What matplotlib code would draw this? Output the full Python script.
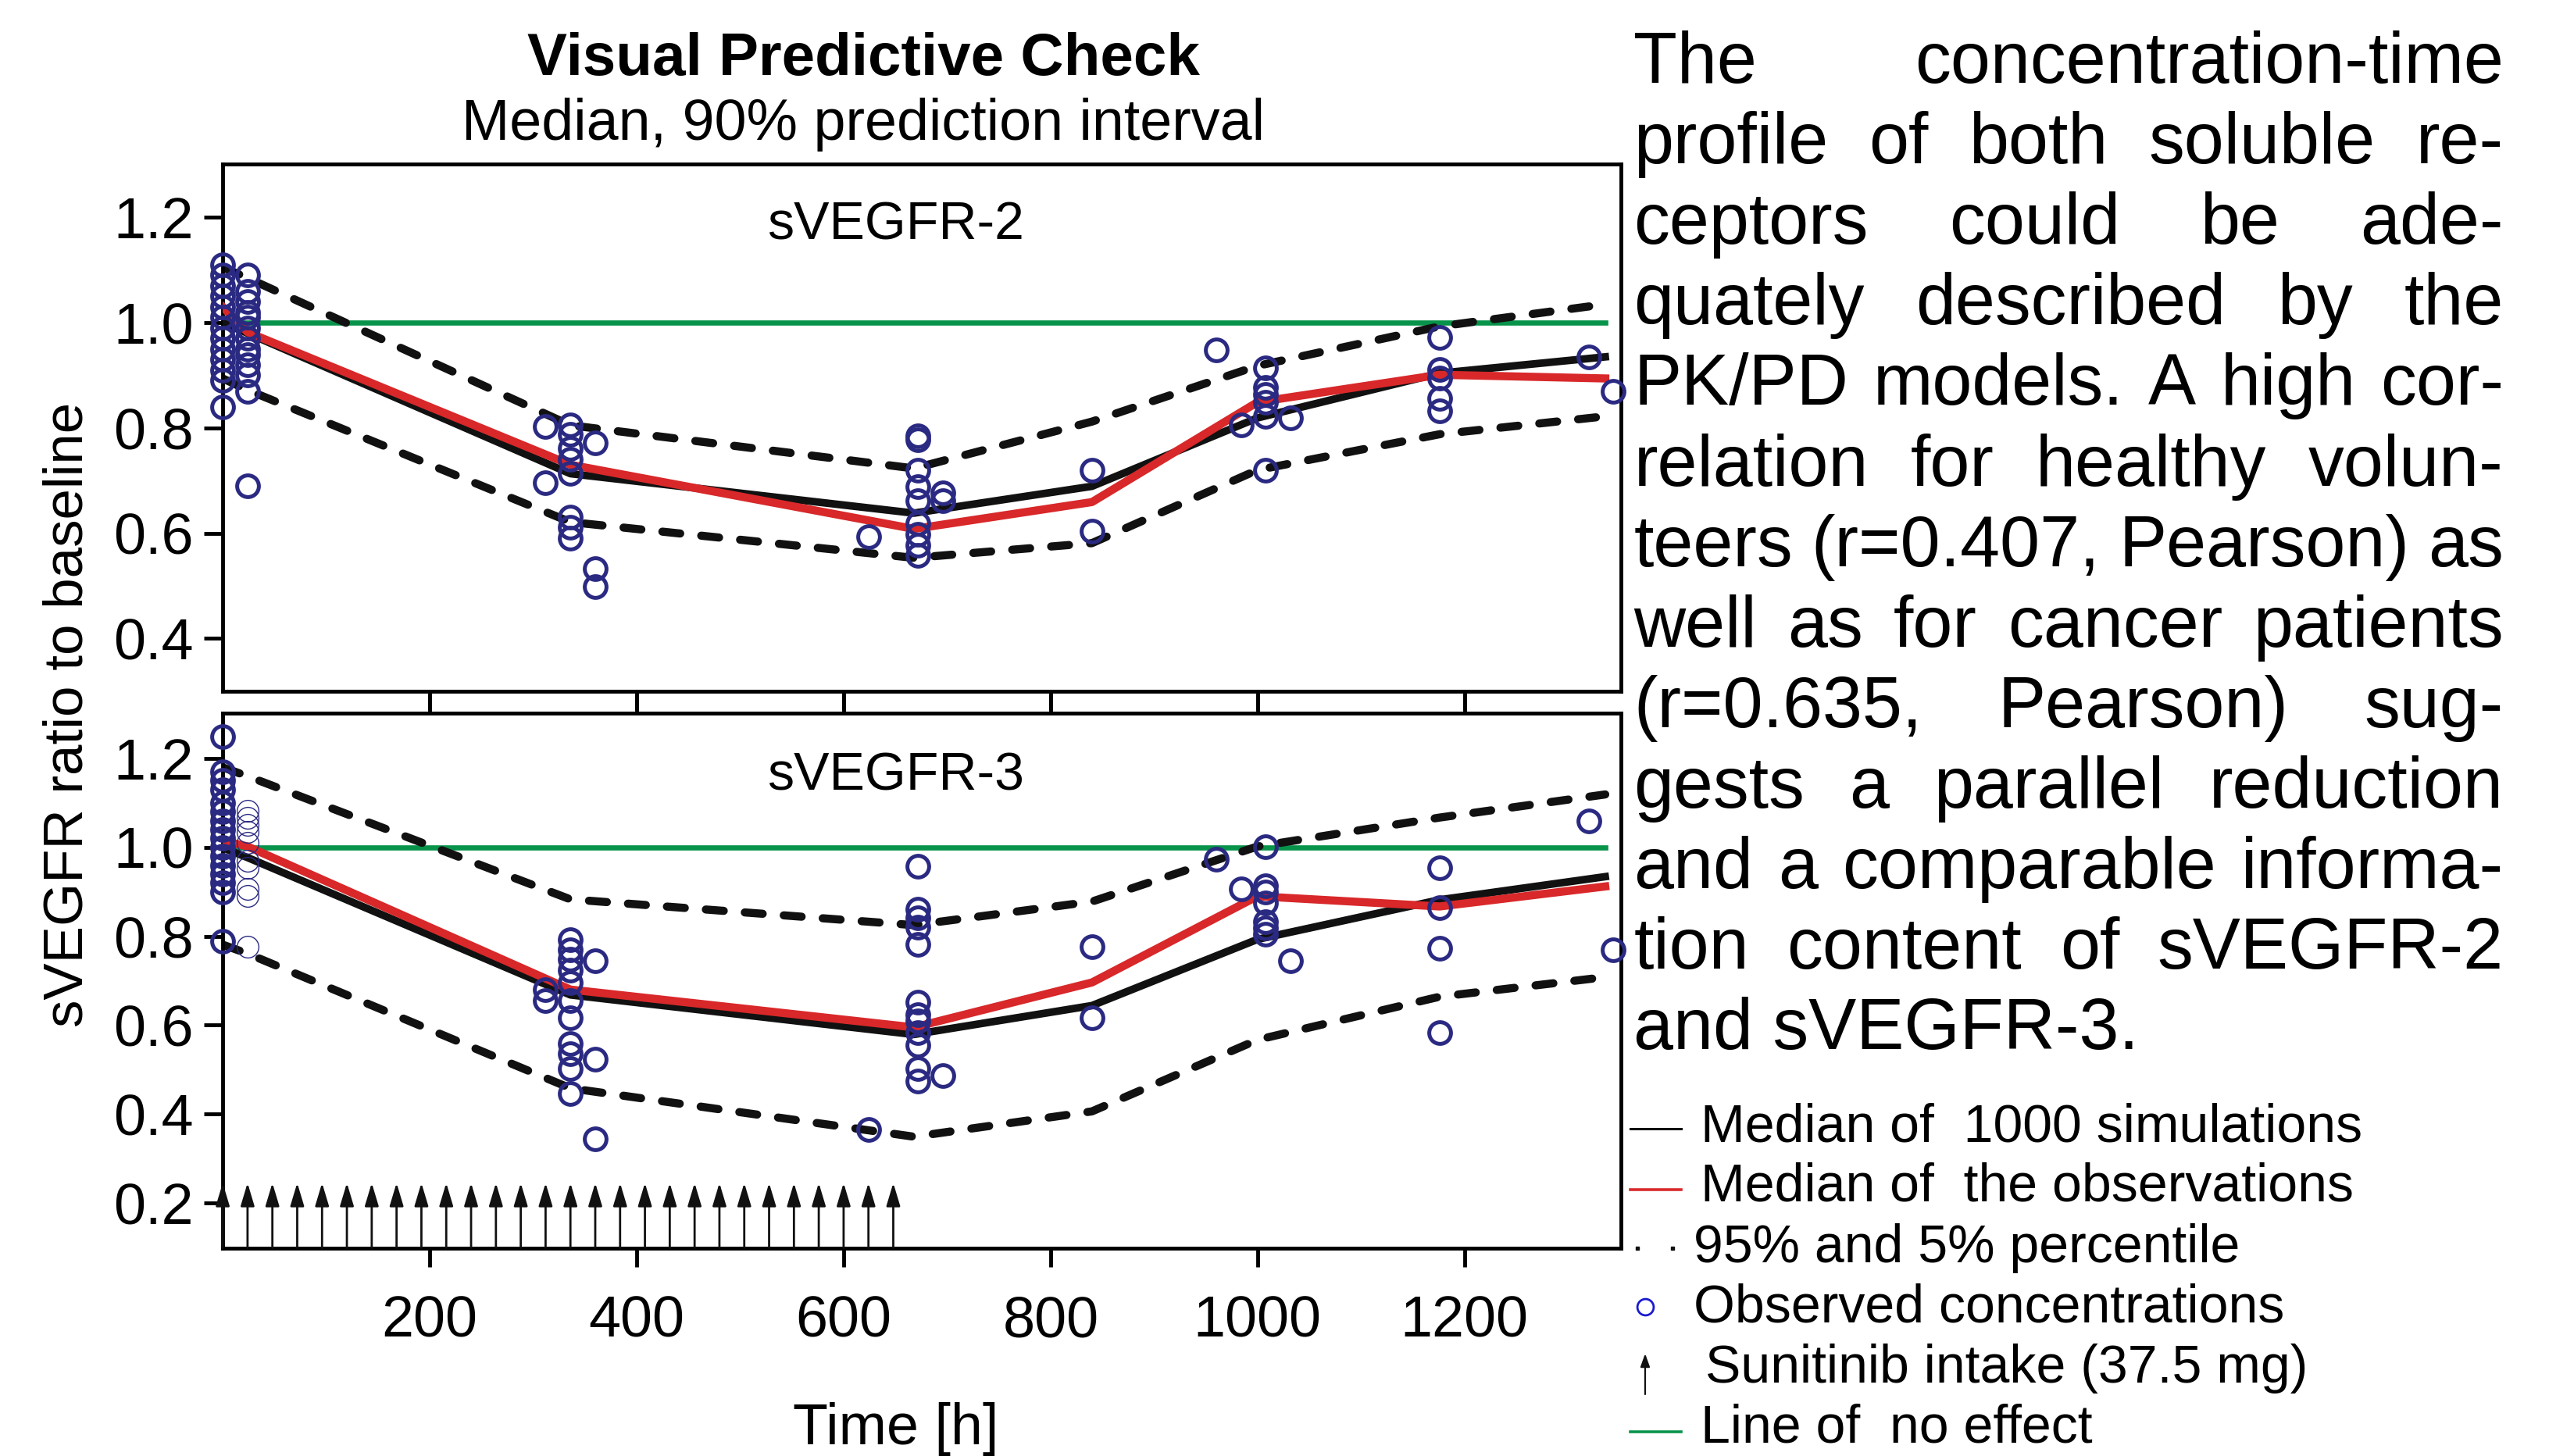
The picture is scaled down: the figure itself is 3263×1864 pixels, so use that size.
import matplotlib
matplotlib.use('Agg')
import matplotlib.pyplot as plt
from matplotlib import font_manager as fm

names = {f.name for f in fm.fontManager.ttflist}
FONT = 'Liberation Sans' if 'Liberation Sans' in names else 'DejaVu Sans'
plt.rcParams['font.family'] = [FONT, 'DejaVu Sans']

# ---- data -----------------------------------------------------------
med_time = [0, 24, 336, 668, 840, 1000, 1176, 1336]

# sVEGFR-2
sim_med_2 = [1.000, 0.980, 0.713, 0.638, 0.689, 0.819, 0.904, 0.935]
obs_med_2 = [1.030, 0.982, 0.730, 0.608, 0.659, 0.849, 0.901, 0.894]
p95_2 = [1.105, 1.085, 0.805, 0.723, 0.812, 0.918, 0.993, 1.035]
p5_2 = [0.894, 0.872, 0.621, 0.553, 0.581, 0.720, 0.788, 0.822]

obs_time_2 = [0, 24, 312, 336, 360, 624, 672, 696, 840, 960, 984, 1008, 1032, 1176, 1320, 1344]
obs_vals_2 = [
    [1.11, 1.09, 1.07, 1.05, 1.03, 1.01, 0.99, 0.97, 0.95, 0.93, 0.91, 0.89, 0.84],
    [1.09, 1.06, 1.04, 1.02, 1.01, 0.99, 0.97, 0.95, 0.94, 0.92, 0.90, 0.87, 0.69],
    [0.802, 0.696],
    [0.805, 0.788, 0.761, 0.740, 0.713, 0.631, 0.611, 0.591],
    [0.771, 0.533, 0.499],
    [0.594],
    [0.785, 0.778, 0.720, 0.688, 0.662, 0.618, 0.598, 0.577, 0.557],
    [0.677, 0.662],
    [0.720, 0.604],
    [0.948],
    [0.805],
    [0.914, 0.877, 0.863, 0.849, 0.822, 0.720],
    [0.819],
    [0.972, 0.911, 0.894, 0.856, 0.833],
    [0.935],
    [0.870],
]

# sVEGFR-3
sim_med_3 = [0.999, 0.977, 0.668, 0.579, 0.644, 0.793, 0.882, 0.934]
obs_med_3 = [1.015, 1.002, 0.680, 0.595, 0.696, 0.890, 0.867, 0.912]
p95_3 = [1.180, 1.160, 0.883, 0.825, 0.878, 1.002, 1.067, 1.119]
p5_3 = [0.781, 0.761, 0.458, 0.349, 0.406, 0.567, 0.664, 0.708]

obs_time_3 = [0, 312, 336, 360, 624, 672, 696, 840, 960, 984, 1008, 1032, 1176, 1320, 1344]
obs_vals_3 = [
    [1.249, 1.17, 1.15, 1.13, 1.10, 1.08, 1.06, 1.04, 1.02, 1.00, 0.98, 0.96, 0.94, 0.92, 0.90, 0.789],
    [0.680, 0.656],
    [0.793, 0.769, 0.749, 0.724, 0.696, 0.656, 0.616, 0.559, 0.535, 0.503, 0.446],
    [0.744, 0.523, 0.345],
    [0.366],
    [0.958, 0.861, 0.841, 0.821, 0.781, 0.652, 0.624, 0.609, 0.583, 0.555, 0.503, 0.474],
    [0.486],
    [0.777, 0.616],
    [0.974],
    [0.906],
    [1.002, 0.914, 0.899, 0.874, 0.833, 0.818, 0.805],
    [0.744],
    [0.954, 0.865, 0.773, 0.583],
    [1.059],
    [0.769],
]
# day-1 samples drawn with thin circles in the sVEGFR-3 panel
thin_time_3 = 24
thin_vals_3 = [1.083, 1.067, 1.051, 1.035, 1.010, 0.970, 0.954, 0.906, 0.890, 0.777]

dose_time = [0, 24, 48, 72, 96, 120, 144, 168, 192, 216, 240, 264, 288, 312,
             336, 360, 384, 408, 432, 456, 480, 504, 528, 552, 576, 600, 624, 648]

x_ticks = [200, 400, 600, 800, 1000, 1200]
y_ticks_2 = [0.4, 0.6, 0.8, 1.0, 1.2]
y_ticks_3 = [0.2, 0.4, 0.6, 0.8, 1.0, 1.2]

para_lines = [
    "The concentration-time",
    "profile of both soluble re-",
    "ceptors could be ade-",
    "quately described by the",
    "PK/PD models. A high cor-",
    "relation for healthy volun-",
    "teers (r=0.407, Pearson) as",
    "well as for cancer patients",
    "(r=0.635, Pearson) sug-",
    "gests a parallel reduction",
    "and a comparable informa-",
    "tion content of sVEGFR-2",
    "and sVEGFR-3.",
]

# ---- style ----------------------------------------------------------
BLUE = '#2b2a82'
RED = '#d8282a'
GREEN = '#07934a'
BLACK = '#111111'

W, H = 1568, 896  # layout units (reference preview pixels)
fig = plt.figure(figsize=(32.63, 18.64), dpi=100)

ax_top = fig.add_axes([137 / W, 1 - 425.2 / H, 860 / W, 324.4 / H])
ax_bot = fig.add_axes([137 / W, 1 - 767.9 / H, 860 / W, 328.8 / H])


def draw_panel(ax, sim, obs, p95, p5, t_obs, v_obs, label):
    ax.plot([med_time[0], med_time[-1]], [1.0, 1.0], color=GREEN, lw=4.8, zorder=1)
    for q in (p95, p5):
        ax.plot(med_time, q, color=BLACK, lw=7.5, ls=(0, (2.2, 2.6)),
                dash_capstyle='round', zorder=2)
    ax.plot(med_time, sim, color=BLACK, lw=7, zorder=3)
    ax.plot(med_time, obs, color=RED, lw=7.5, zorder=4)
    for t, vals in zip(t_obs, v_obs):
        ax.plot([t] * len(vals), vals, 'o', ms=20, mfc='none', mec=BLUE,
                mew=3.6, clip_on=False, zorder=5)
    ax.text(0.4814, 0.856, label, transform=ax.transAxes, ha='center',
            va='baseline', fontsize=49)
    ax.set_xlim(0, 1351)
    ax.set_xticks(x_ticks)
    for s in ax.spines.values():
        s.set_linewidth(3.5)
    ax.tick_params(direction='out', length=17, width=3.5, labelsize=53)
    ax.tick_params(axis='y', pad=10)
    ax.tick_params(axis='x', pad=26)


draw_panel(ax_top, sim_med_2, obs_med_2, p95_2, p5_2, obs_time_2, obs_vals_2, 'sVEGFR-2')
ax_top.set_ylim(0.30, 1.302)
ax_top.set_yticks(y_ticks_2)
ax_top.tick_params(axis='x', labelbottom=False)

draw_panel(ax_bot, sim_med_3, obs_med_3, p95_3, p5_3, obs_time_3, obs_vals_3, 'sVEGFR-3')
ax_bot.plot([thin_time_3] * len(thin_vals_3), thin_vals_3, 'o', ms=20, mfc='none',
            mec=BLUE, mew=1.0, clip_on=False, zorder=5)
ax_bot.set_ylim(0.099, 1.301)
ax_bot.set_yticks(y_ticks_3)
ax_bot.tick_params(axis='x', top=True, labeltop=False)

for t in dose_time:
    ax_bot.annotate('', xy=(t, 0.245), xytext=(t, 0.099),
                    arrowprops=dict(arrowstyle='-|>,head_length=0.4,head_width=0.12',
                                    color=BLACK, lw=2, shrinkA=0, shrinkB=0,
                                    mutation_scale=45),
                    annotation_clip=False)

# ---- overlay for titles, paragraph and legend -----------------------
ov = fig.add_axes([0, 0, 1, 1], zorder=10)
ov.set_xlim(0, W)
ov.set_ylim(H, 0)
ov.axis('off')
ov.patch.set_visible(False)

ov.text(531, 46, 'Visual Predictive Check', ha='center', va='baseline',
        fontsize=55, fontweight='bold')
ov.text(531, 86, 'Median, 90% prediction interval', ha='center', va='baseline',
        fontsize=53)
ov.text(42, 440, 'sVEGFR ratio to baseline', rotation=90, ha='center',
        va='center', fontsize=51)
ov.text(551, 889, 'Time [h]', ha='center', va='baseline', fontsize=53)

# justified paragraph
renderer = fig.canvas.get_renderer()
scale = W / fig.bbox.width
left, right = 1005, 1540
for i, line in enumerate(para_lines):
    yb = 51 + i * 49.55
    if i == len(para_lines) - 1:
        ov.text(left, yb, line, ha='left', va='baseline', fontsize=66)
        continue
    words = line.split()
    ts = [ov.text(0, yb, w, ha='left', va='baseline', fontsize=66) for w in words]
    ws = [t.get_window_extent(renderer).width * scale for t in ts]
    gap = (right - left - sum(ws)) / (len(ws) - 1)
    x = left
    for t, w in zip(ts, ws):
        t.set_x(x)
        x += w + gap

# legend
ov.plot([1003, 1034], [694.4, 694.4], color=BLACK, lw=2.2)
ov.text(1046, 702.4, 'Median of  1000 simulations', va='baseline', fontsize=49)
ov.plot([1003, 1034], [732, 732], color=RED, lw=2.6)
ov.text(1046, 739.2, 'Median of  the observations', va='baseline', fontsize=49)
ov.plot([1007, 1029], [768, 768], 's', color=BLACK, ms=3.5, lw=0)
ov.text(1042, 776.9, '95% and 5% percentile', va='baseline', fontsize=49)
ov.plot([1012], [804], 'o', ms=15, mfc='none', mec='#1a1ad0', mew=2)
ov.text(1042, 813.7, 'Observed concentrations', va='baseline', fontsize=49)
ov.annotate('', xy=(1012, 833), xytext=(1012, 858),
            arrowprops=dict(arrowstyle='-|>,head_length=0.5,head_width=0.18',
                            color=BLACK, lw=1.6, shrinkA=0, shrinkB=0,
                            mutation_scale=20))
ov.text(1049, 850.6, 'Sunitinib intake (37.5 mg)', va='baseline', fontsize=49)
ov.plot([1003, 1034], [881, 881], color=GREEN, lw=2.6)
ov.text(1046, 887.4, 'Line of  no effect', va='baseline', fontsize=49)

fig.savefig('out.png', dpi=100)
